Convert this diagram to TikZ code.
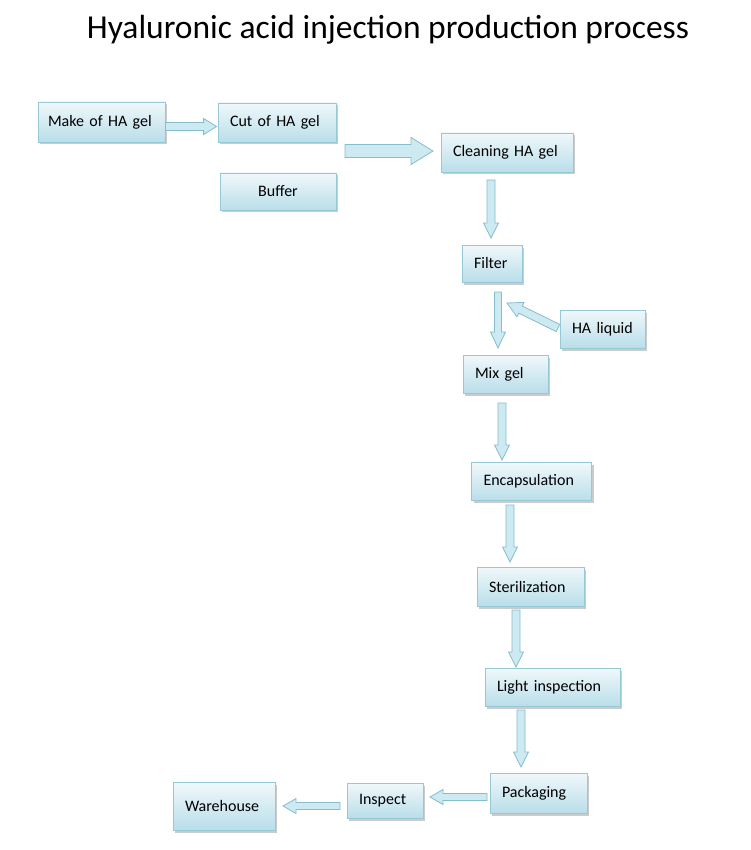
\documentclass[tikz,border=0pt]{standalone}
\usepackage{fontspec}
\setmainfont{Carlito}
\usepackage{tikz}
\usetikzlibrary{calc,shadows}

% block arrow between two named coordinates: from, to, shaft half width, head half width, head length
\newcommand{\blockarrow}[5]{%
  \coordinate (tipbase) at ($(#2)!#5!(#1)$);
  \draw[flowarrow] ($(#1)!#3!90:(#2)$) -- ($(tipbase)!#3!90:(#2)$) -- ($(tipbase)!#4!90:(#2)$) -- (#2)
    -- ($(tipbase)!#4!-90:(#2)$) -- ($(tipbase)!#3!-90:(#2)$) -- ($(#1)!#3!-90:(#2)$) -- cycle;
}

\begin{document}
\begin{tikzpicture}[
            x=1pt,y=-1pt,
            stepbox/.style={draw=boxline,line width=0.8pt,top color=boxtop,bottom color=boxbottom,
                drop shadow={shadow xshift=2pt,shadow yshift=-2.5pt,fill=black!45,opacity=0.45},
                align=left,inner xsep=12pt,inner ysep=0pt,text=black,font=\fontsize{16}{19}\selectfont},
            flowarrow/.style={draw=arrowline,line width=0.8pt,fill=arrowfill,line join=miter},
            title/.style={font=\fontsize{33.5}{40}\selectfont,text=black,anchor=base}
        ]

        % Define colors
        \definecolor{boxline}{RGB}{150,200,214};
        \definecolor{boxtop}{RGB}{240,248,251};
        \definecolor{boxbottom}{RGB}{185,222,233};
        \definecolor{arrowline}{RGB}{135,188,204};
        \definecolor{arrowfill}{RGB}{205,233,241};

        \useasboundingbox[fill=white] (0,0) rectangle (750,850);

        % Title
        \node[title] (heading) at (388,39) {Hyaluronic acid injection production process};

        % Process steps
        \node[stepbox,inner xsep=10pt,text width=107pt,minimum height=40pt] (make) at (101.5,122) {Make of HA gel};
        \node[stepbox,text width=94pt,minimum height=39pt] (cut) at (277,122.5) {Cut of HA gel};
        \node[stepbox,text width=92pt,minimum height=37pt,align=center] (buffer) at (278,191.5) {Buffer};
        \node[stepbox,text width=108pt,minimum height=39pt] (clean) at (507,152.5) {Cleaning HA gel};
        \node[stepbox,text width=36pt,minimum height=37pt] (filter) at (492,263.5) {Filter};
        \node[stepbox,text width=61pt,minimum height=38pt] (liquid) at (602.5,329) {HA liquid};
        \node[stepbox,text width=61pt,minimum height=38pt] (mix) at (505.5,374) {Mix gel};
        \node[stepbox,text width=96pt,minimum height=38pt] (encaps) at (531.5,481.5) {Encapsulation};
        \node[stepbox,text width=83pt,minimum height=39pt] (steril) at (530.5,586.5) {Sterilization};
        \node[stepbox,text width=111pt,minimum height=38pt] (light) at (552.5,687) {Light inspection};
        \node[stepbox,text width=73pt,minimum height=40pt] (pack) at (538.5,793) {Packaging};
        \node[stepbox,text width=52pt,minimum height=35pt] (inspect) at (385,800.5) {Inspect};
        \node[stepbox,text width=78pt,minimum height=48pt] (store) at (224,806) {Warehouse};

        % Arrow end points
        \coordinate (makeOut) at (make.east |- 0,126.5);
        \coordinate (cutIn) at ([xshift=-1pt]cut.west |- 0,126.5);
        \coordinate (cutOut) at (345,151);
        \coordinate (cleanIn) at (433,151);
        \coordinate (cleanOut) at (491,180);
        \coordinate (filterIn) at (491,238);
        \coordinate (filterOut) at (498,292);
        \coordinate (mixIn) at (498,348);
        \coordinate (liquidOut) at (558,328);
        \coordinate (liquidIn) at (507,303);
        \coordinate (mixOut) at (502,403);
        \coordinate (encapsIn) at (502,460);
        \coordinate (encapsOut) at (510,505);
        \coordinate (sterilIn) at (510,562);
        \coordinate (sterilOut) at (516,610);
        \coordinate (lightIn) at (516,667);
        \coordinate (lightOut) at (521,710);
        \coordinate (packIn) at (521,767);
        \coordinate (packOut) at (487,797);
        \coordinate (inspectIn) at (430,797);
        \coordinate (inspectOut) at (340,806);
        \coordinate (storeIn) at (283,806);

        % Draw the block arrows
        \blockarrow{makeOut}{cutIn}{4pt}{8pt}{13pt}
        \blockarrow{cutOut}{cleanIn}{6.5pt}{13.5pt}{22pt}
        \blockarrow{cleanOut}{filterIn}{4pt}{7.5pt}{15pt}
        \blockarrow{filterOut}{mixIn}{3.5pt}{7.5pt}{16pt}
        \blockarrow{liquidOut}{liquidIn}{4pt}{8pt}{15pt}
        \blockarrow{mixOut}{encapsIn}{4pt}{7.5pt}{15pt}
        \blockarrow{encapsOut}{sterilIn}{4pt}{7.5pt}{15pt}
        \blockarrow{sterilOut}{lightIn}{4pt}{7.5pt}{15pt}
        \blockarrow{lightOut}{packIn}{4pt}{7.5pt}{15pt}
        \blockarrow{packOut}{inspectIn}{3.5pt}{7.5pt}{13pt}
        \blockarrow{inspectOut}{storeIn}{3.5pt}{7.5pt}{13pt}

\end{tikzpicture}
\end{document}
